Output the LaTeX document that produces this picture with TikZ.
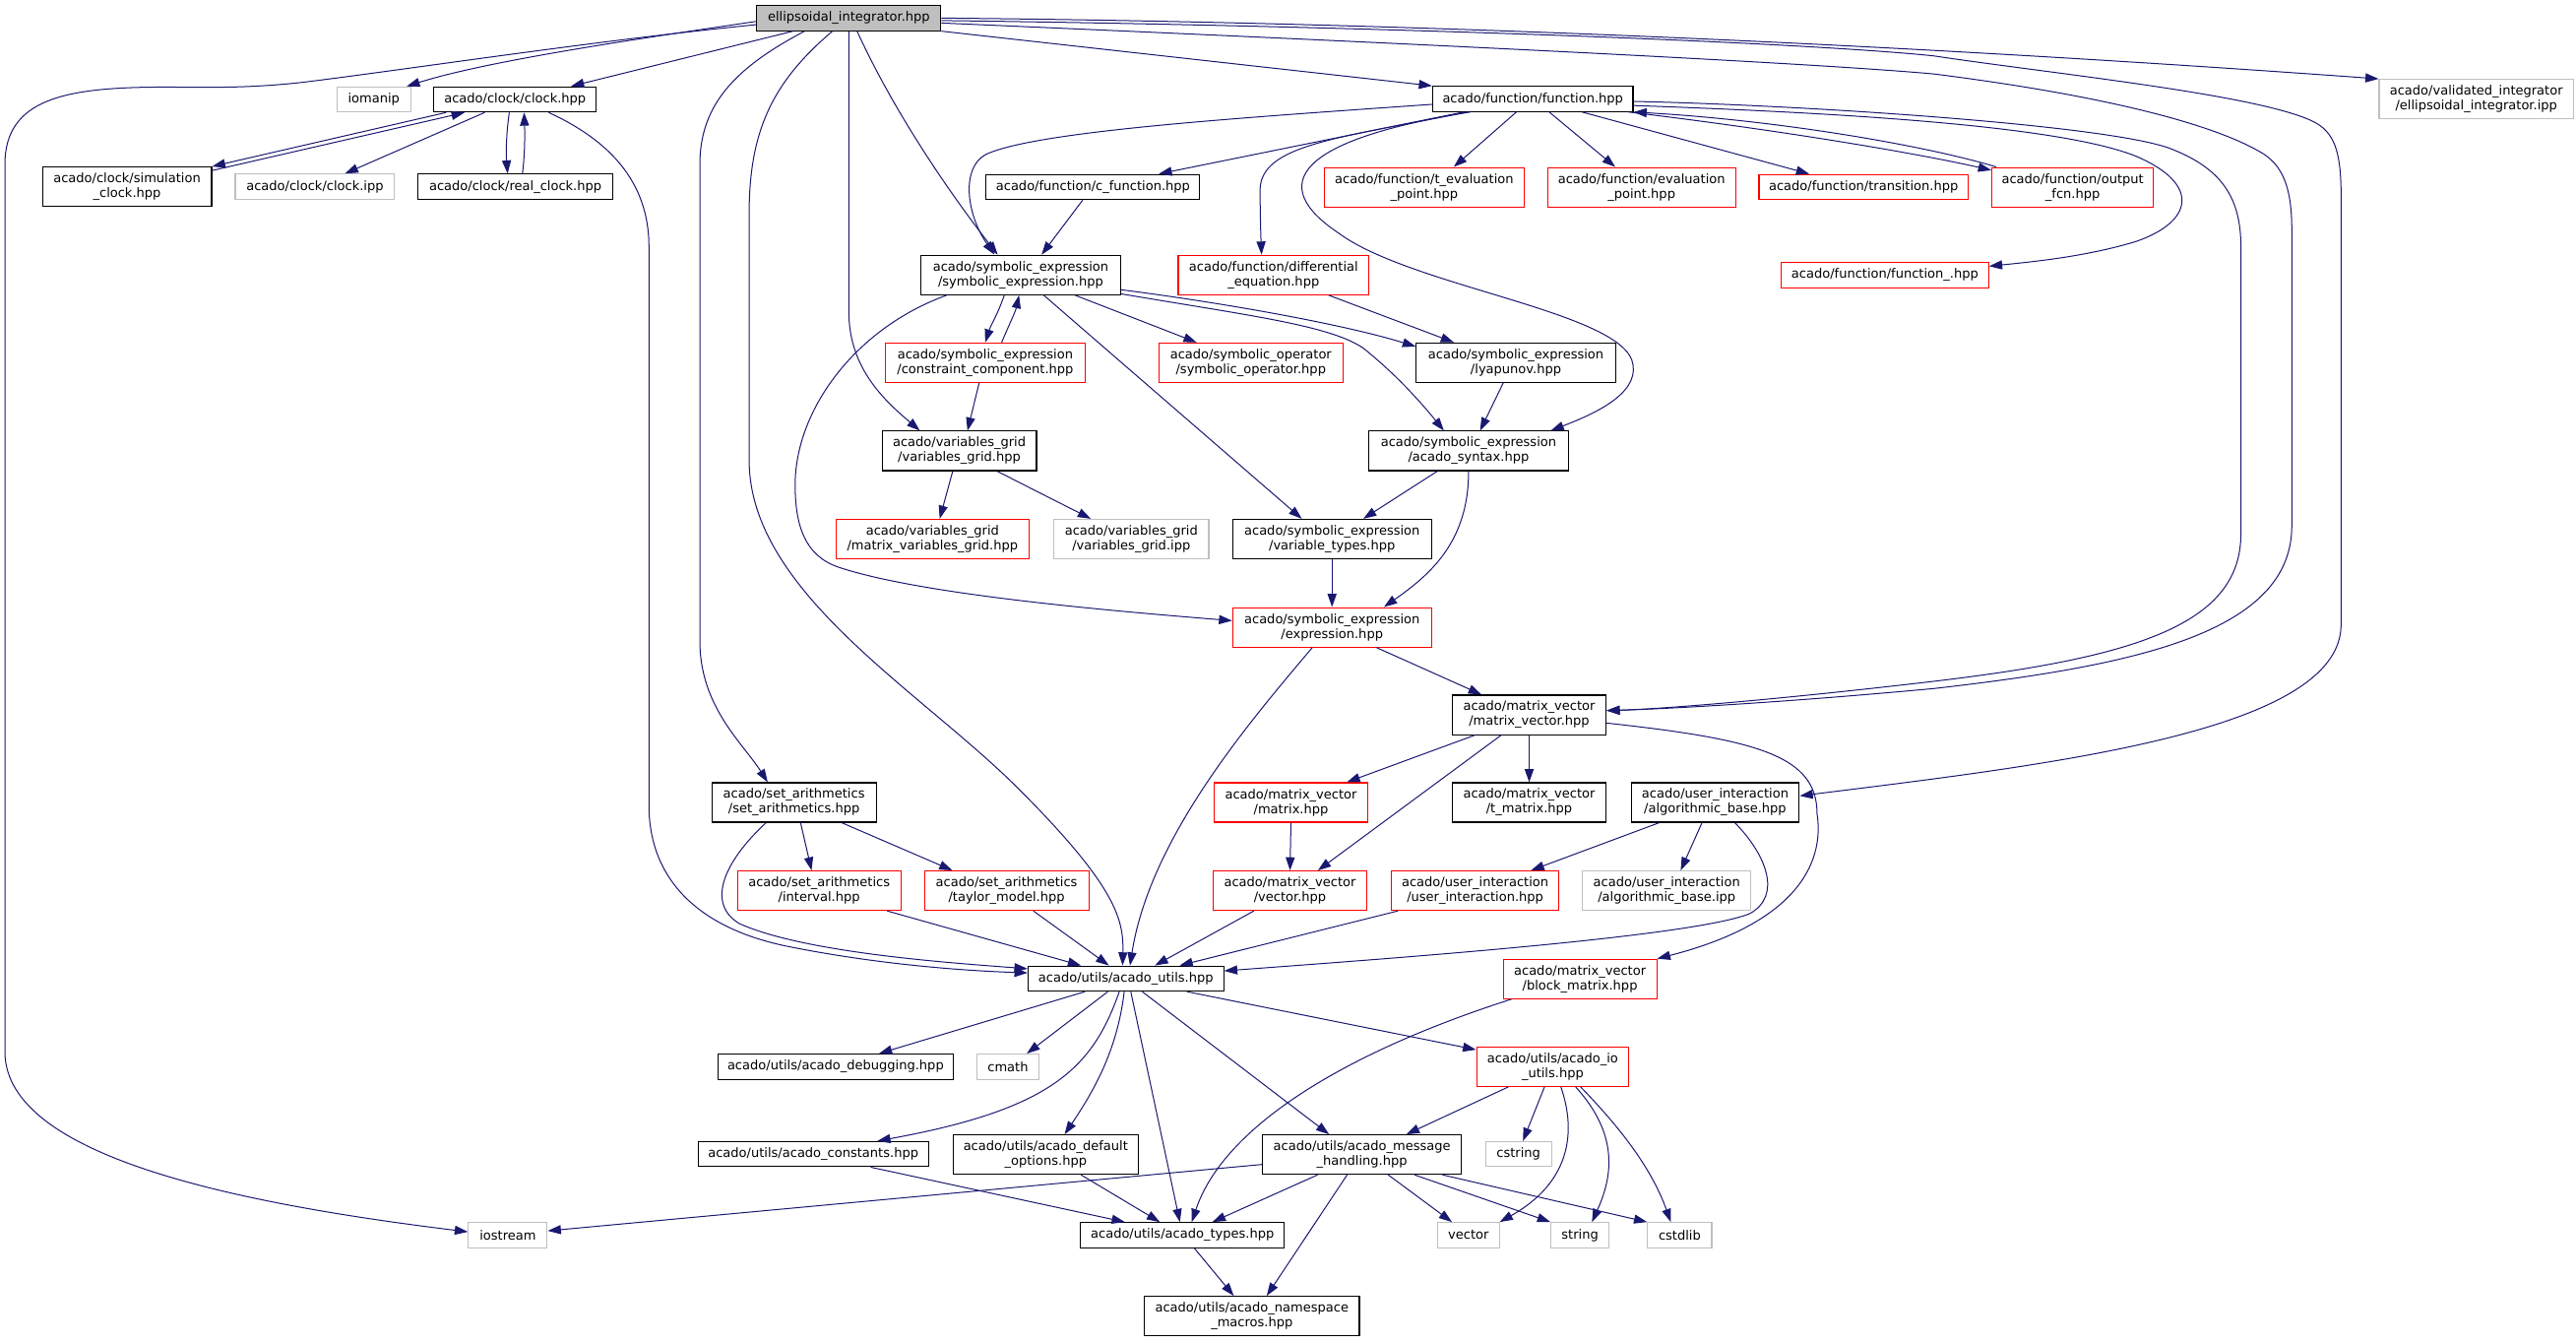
\documentclass[tikz,border=0pt]{standalone}
\usepackage{fontspec}
\setmainfont{DejaVu Sans}
\usetikzlibrary{arrows.meta}
\definecolor{edgecol}{HTML}{191970}
\definecolor{gry}{HTML}{BFBFBF}
\definecolor{redb}{HTML}{FF0000}
\newcommand{\nodefont}{\fontsize{7.8pt}{9pt}\selectfont}
\begin{document}
\begin{tikzpicture}[x=1pt,y=-1pt,
  base/.style={rectangle, inner sep=0pt, align=center, font=\nodefont, line width=0.65pt, fill=white},
  nb/.style={base, draw=black},
  nr/.style={base, draw=redb},
  ng/.style={base, draw=gry},
  nroot/.style={base, draw=black, fill=gry},
  ha/.style={minimum height=15.3pt},
  hb/.style={minimum height=24pt},
  lnk/.style={draw=edgecol, line width=0.6pt, -{Triangle[length=8pt,width=5.5pt]}}]
\useasboundingbox (0,0) rectangle (1568,817);

% ---------------- nodes ----------------
\node[nroot,ha,minimum width=112pt] (E) at (516.7,11) {ellipsoidal\_integrator.hpp};
\node[ng,ha,minimum width=45pt] (iomanip) at (227.5,60.5) {iomanip};
\node[nb,ha,minimum width=99pt] (clock) at (313.5,60.5) {acado/clock/clock.hpp};
\node[nb,ha,minimum width=122pt] (F) at (933,60.2) {acado/function/function.hpp};
\node[ng,hb,minimum width=118.3pt] (valid) at (1507.3,60.3) {acado/validated\_integrator\\/ellipsoidal\_integrator.ipp};
\node[nb,hb,minimum width=103pt] (simclock) at (77.3,113.6) {acado/clock/simulation\\\_clock.hpp};
\node[ng,ha,minimum width=97pt] (clockipp) at (191.7,113.6) {acado/clock/clock.ipp};
\node[nb,ha,minimum width=118.4pt] (realclock) at (313.7,113.6) {acado/clock/real\_clock.hpp};
\node[nb,ha,minimum width=130pt] (cfunc) at (665.3,113.8) {acado/function/c\_function.hpp};
\node[nr,hb,minimum width=121.4pt] (teval) at (866.9,113.9) {acado/function/t\_evaluation\\\_point.hpp};
\node[nr,hb,minimum width=114.4pt] (eval) at (999.2,113.9) {acado/function/evaluation\\\_point.hpp};
\node[nr,ha,minimum width=127.2pt] (trans) at (1134.3,113.8) {acado/function/transition.hpp};
\node[nr,hb,minimum width=98.3pt] (outfcn) at (1261.6,113.9) {acado/function/output\\\_fcn.hpp};
\node[nb,hb,minimum width=121.4pt] (SE) at (621.3,167.3) {acado/symbolic\_expression\\/symbolic\_expression.hpp};
\node[nr,hb,minimum width=116pt] (diffeq) at (775.2,167.3) {acado/function/differential\\\_equation.hpp};
\node[nr,ha,minimum width=126.2pt] (funcu) at (1147.3,167.5) {acado/function/function\_.hpp};
\node[nr,hb,minimum width=121.2pt] (constr) at (599.7,220.7) {acado/symbolic\_expression\\/constraint\_component.hpp};
\node[nr,hb,minimum width=112pt] (symop) at (761.4,220.7) {acado/symbolic\_operator\\/symbolic\_operator.hpp};
\node[nb,hb,minimum width=121.3pt] (lyap) at (922.7,220.7) {acado/symbolic\_expression\\/lyapunov.hpp};
\node[nb,hb,minimum width=94pt] (vgrid) at (583.9,274.4) {acado/variables\_grid\\/variables\_grid.hpp};
\node[nb,hb,minimum width=121.4pt] (syntax) at (893.9,274.4) {acado/symbolic\_expression\\/acado\_syntax.hpp};
\node[nr,hb,minimum width=117.7pt] (mvgrid) at (567.6,328) {acado/variables\_grid\\/matrix\_variables\_grid.hpp};
\node[ng,hb,minimum width=94.3pt] (vgridipp) at (688.6,328) {acado/variables\_grid\\/variables\_grid.ipp};
\node[nb,hb,minimum width=121pt] (vartypes) at (810.8,328) {acado/symbolic\_expression\\/variable\_types.hpp};
\node[nr,hb,minimum width=121pt] (expr) at (810.8,381.7) {acado/symbolic\_expression\\/expression.hpp};
\node[nb,hb,minimum width=93.6pt] (MV) at (930.8,435) {acado/matrix\_vector\\/matrix\_vector.hpp};
\node[nb,hb,minimum width=100.1pt] (setar) at (483.3,488.3) {acado/set\_arithmetics\\/set\_arithmetics.hpp};
\node[nr,hb,minimum width=93.4pt] (matrix) at (785.8,488.3) {acado/matrix\_vector\\/matrix.hpp};
\node[nb,hb,minimum width=93.6pt] (tmatrix) at (930.8,488.3) {acado/matrix\_vector\\/t\_matrix.hpp};
\node[nb,hb,minimum width=102.3pt] (algbase) at (1044,488.3) {acado/user\_interaction\\/algorithmic\_base.hpp};
\node[nr,hb,minimum width=99.6pt] (interval) at (498.6,542) {acado/set\_arithmetics\\/interval.hpp};
\node[nr,hb,minimum width=100pt] (taylor) at (612.7,542) {acado/set\_arithmetics\\/taylor\_model.hpp};
\node[nr,hb,minimum width=93.7pt] (vector) at (785.2,542) {acado/matrix\_vector\\/vector.hpp};
\node[nr,hb,minimum width=101.8pt] (userint) at (897.9,542) {acado/user\_interaction\\/user\_interaction.hpp};
\node[ng,hb,minimum width=102.4pt] (algipp) at (1014.5,542) {acado/user\_interaction\\/algorithmic\_base.ipp};
\node[nb,ha,minimum width=119pt] (AU) at (685.3,595.5) {acado/utils/acado\_utils.hpp};
\node[nr,hb,minimum width=93.4pt] (block) at (961.7,595.7) {acado/matrix\_vector\\/block\_matrix.hpp};
\node[nb,ha,minimum width=143.2pt] (debug) at (508.6,649.1) {acado/utils/acado\_debugging.hpp};
\node[ng,ha,minimum width=37.5pt] (cmath) at (613.5,649.1) {cmath};
\node[nr,hb,minimum width=92.6pt] (ioutils) at (945.1,649.1) {acado/utils/acado\_io\\\_utils.hpp};
\node[nb,ha,minimum width=140.1pt] (consts) at (495,702.3) {acado/utils/acado\_constants.hpp};
\node[nb,hb,minimum width=112.6pt] (defopt) at (636.5,702.6) {acado/utils/acado\_default\\\_options.hpp};
\node[nb,hb,minimum width=121.1pt] (MH) at (829,702.6) {acado/utils/acado\_message\\\_handling.hpp};
\node[ng,ha,minimum width=40.1pt] (cstring) at (924.3,702.3) {cstring};
\node[ng,ha,minimum width=48pt] (iostream) at (309.1,751.6) {iostream};
\node[nb,ha,minimum width=123.8pt] (types) at (719.7,751.6) {acado/utils/acado\_types.hpp};
\node[ng,ha,minimum width=37.5pt] (vecstd) at (893.8,751.6) {vector};
\node[ng,ha,minimum width=35.3pt] (string) at (961.7,751.6) {string};
\node[ng,ha,minimum width=39pt] (cstdlib) at (1022.4,751.6) {cstdlib};
\node[nb,hb,minimum width=130.9pt] (nsm) at (762,800.9) {acado/utils/acado\_namespace\\\_macros.hpp};

% ---------------- edges from root ----------------
\draw[lnk] ([yshift=-4pt]E.west) .. controls (360,25) and (250,42) .. (185,50) .. controls (150,54) and (125,53) .. (100,53) .. controls (40,53) and (3,60) .. (3,100) -- (3,640) .. controls (3,705) and (150,733) .. ([yshift=2pt]iostream.west);
\draw[lnk] ([yshift=-2pt]E.west) .. controls (400,22) and (300,36) .. ([xshift=20pt]iomanip.north);
\draw[lnk] ([xshift=-34pt]E.south) -- ([xshift=34pt]clock.north);
\draw[lnk] ([xshift=-27pt]E.south) .. controls (450,40) and (426,62) .. (426,100) -- (426,390) .. controls (426,430) and (452,452) .. ([xshift=-16pt]setar.north);
\draw[lnk] ([xshift=-10pt]E.south) .. controls (470,50) and (456,80) .. (456,130) -- (456,280) .. controls (456,360) and (560,420) .. (620,480) .. controls (680,540) and (684,560) .. ([xshift=-2pt]AU.north);
\draw[lnk] ([xshift=5pt]E.south) .. controls (545,70) and (580,120) .. ([xshift=-14pt]SE.north);
\draw[lnk] (E.south) -- (516.7,190) .. controls (516.7,225) and (540,245) .. ([xshift=-24pt]vgrid.north);
\draw[lnk] (E.south east) -- (F.north west);
\draw[lnk] (E.east) .. controls (900,14) and (1200,30) .. (valid.north west);
\draw[lnk] ([yshift=-1.5pt]E.east) .. controls (850,16) and (1100,26) .. (1177,34) .. controls (1250,45) and (1380,58) .. (1410,75) .. controls (1422,82) and (1425,95) .. (1425,120) -- (1425,380) .. controls (1425,445) and (1250,465) .. ([yshift=4pt]algbase.east);
\draw[lnk] ([yshift=-3pt]E.east) .. controls (850,26) and (1100,38) .. (1177,45) .. controls (1280,58) and (1345,75) .. (1375,92) .. controls (1390,100) and (1395,115) .. (1395,140) -- (1395,320) .. controls (1395,385) and (1300,405) .. (1177,419) .. controls (1080,428) and (1010,431.5) .. ([yshift=2.6pt]MV.east);

% ---------------- function.hpp ----------------
\draw[lnk] ([yshift=-3.3pt]F.west) .. controls (750,72) and (630,80) .. (600,94) .. controls (585,102) and (588,130) .. ([xshift=-16pt]SE.north);
\draw[lnk] ([xshift=-42pt]F.south) -- ([xshift=40pt]cfunc.north);
\draw[lnk] ([xshift=-40pt]F.south) .. controls (815,84) and (768,88) .. (767,115) .. controls (767,130) and (767.5,145) .. ([xshift=-7.3pt]diffeq.north);
\draw[lnk] ([xshift=-38pt]F.south) .. controls (790,85) and (770,112) .. (815,142) .. controls (860,175) and (990,190) .. (994,222) .. controls (997,240) and (970,252) .. ([xshift=50pt]syntax.north);
\draw[lnk] ([xshift=-10pt]F.south) -- ([xshift=18pt]teval.north);
\draw[lnk] ([xshift=10pt]F.south) -- ([xshift=-16pt]eval.north);
\draw[lnk] ([xshift=30pt]F.south) -- ([xshift=-33pt]trans.north);
\draw[lnk] ([xshift=-3pt]F.south east) .. controls (1090,80) and (1170,94) .. ([yshift=-2pt]outfcn.north west);
\draw[lnk] ([xshift=3pt]outfcn.north west) .. controls (1170,88) and (1080,73) .. (F.south east);
\draw[lnk] ([yshift=-4pt]F.east) .. controls (1100,68) and (1250,75) .. (1300,95) .. controls (1340,112) and (1335,135) .. (1300,147) .. controls (1270,156) and (1240,159) .. ([yshift=5.5pt]funcu.east);
\draw[lnk] ([yshift=-1.5pt]F.east) .. controls (1100,64) and (1280,76) .. (1320,90) .. controls (1352,102) and (1364,120) .. (1364,150) -- (1364,325) .. controls (1364,380) and (1300,400) .. (1177,414.6) .. controls (1080,426) and (1010,431.5) .. ([yshift=2.6pt]MV.east);

% ---------------- symbolic expression ----------------
\draw[lnk] ([xshift=-6.3pt]cfunc.south) -- ([xshift=12.7pt]SE.north);
\draw[lnk] ([xshift=-10pt]SE.south) .. controls (607,192) and (603,198) .. (constr.north);
\draw[lnk] ([xshift=10pt]constr.north) .. controls (614,198) and (618,190) .. ([xshift=-1pt]SE.south);
\draw[lnk] ([xshift=-45pt]SE.south) .. controls (520,200) and (484,250) .. (484,295) .. controls (484,320) and (490,338) .. (510,345) .. controls (560,362) and (680,372) .. ([yshift=4pt]expr.west);
\draw[lnk] ([xshift=33pt]SE.south) -- ([xshift=-33pt]symop.north);
\draw[lnk] ([yshift=-9pt]SE.east) .. controls (750,185) and (820,198) .. ([yshift=-2.5pt]lyap.north west);
\draw[lnk] ([yshift=-11.5pt]SE.east) .. controls (760,192) and (810,198) .. (830,212) .. controls (850,228) and (865,245) .. ([xshift=-15pt]syntax.north);
\draw[lnk] ([xshift=14pt]SE.south) -- ([xshift=-18.4pt]vartypes.north);
\draw[lnk] ([xshift=33.5pt]diffeq.south) -- ([xshift=-37.7pt]lyap.north);
\draw[lnk] ([xshift=-3.7pt]constr.south) -- ([xshift=5pt]vgrid.north);
\draw[lnk] ([xshift=-4pt]vgrid.south) -- ([xshift=4.4pt]mvgrid.north);
\draw[lnk] ([xshift=23pt]vgrid.south) -- ([xshift=-24.6pt]vgridipp.north);
\draw[lnk] ([xshift=-7.7pt]lyap.south) -- ([xshift=7pt]syntax.north);
\draw[lnk] ([xshift=-19pt]syntax.south) -- ([xshift=19pt]vartypes.north);
\draw[lnk] (syntax.south) .. controls (894,330) and (870,350) .. ([xshift=31.6pt]expr.north);
\draw[lnk] (vartypes.south) -- (expr.north);
\draw[lnk] ([xshift=27pt]expr.south) -- ([xshift=-29pt]MV.north);
\draw[lnk] ([xshift=-12pt]expr.south) .. controls (760,440) and (700,510) .. ([xshift=2.5pt]AU.north);

% ---------------- matrix vector ----------------
\draw[lnk] ([xshift=-33pt]MV.south) -- ([xshift=34pt]matrix.north);
\draw[lnk] ([xshift=-17pt]MV.south) -- ([xshift=17pt]vector.north);
\draw[lnk] (MV.south) -- (tmatrix.north);
\draw[lnk] ([yshift=-5pt]MV.east) .. controls (1070,450) and (1106,460) .. (1106,495) .. controls (1110,520) and (1100,560) .. (block.north east);
\draw[lnk] (matrix.south) -- (vector.north);

% ---------------- set arithmetics / user interaction ----------------
\draw[lnk] ([xshift=4pt]setar.south) -- ([xshift=-4.6pt]interval.north);
\draw[lnk] ([xshift=29pt]setar.south) -- ([xshift=-33pt]taylor.north);
\draw[lnk] ([xshift=-17pt]setar.south) .. controls (440,525) and (430,550) .. (450,562) .. controls (490,580) and (580,586) .. ([yshift=6pt]AU.west);
\draw[lnk] ([xshift=41.4pt]interval.south) -- ([xshift=-27.3pt]AU.north);
\draw[lnk] ([xshift=16.3pt]taylor.south) -- ([xshift=-10.3pt]AU.north);
\draw[lnk] ([xshift=-22pt]vector.south) -- ([xshift=17.7pt]AU.north);
\draw[lnk] ([xshift=-47pt]userint.south) -- ([xshift=32.7pt]AU.north);
\draw[lnk] ([xshift=-34pt]algbase.south) -- ([xshift=34pt]userint.north);
\draw[lnk] ([xshift=-8pt]algbase.south) -- ([xshift=8.5pt]algipp.north);
\draw[lnk] ([xshift=12pt]algbase.south) .. controls (1075,520) and (1085,545) .. (1065,556) .. controls (1030,570) and (850,583) .. ([yshift=4.7pt]AU.east);

% ---------------- clock ----------------
\draw[lnk] ([xshift=-42pt]clock.south) -- (simclock.north east);
\draw[lnk] ([yshift=-2.5pt]simclock.north east) -- ([xshift=-30.7pt]clock.south);
\draw[lnk] ([xshift=-18.5pt]clock.south) -- ([xshift=18.3pt]clockipp.north);
\draw[lnk] ([xshift=-3.5pt]clock.south) .. controls (308,82) and (308,94) .. ([xshift=-4.7pt]realclock.north);
\draw[lnk] ([xshift=4.3pt]realclock.north) .. controls (319.5,94) and (319.5,82) .. ([xshift=5.5pt]clock.south);
\draw[lnk] ([xshift=20.5pt]clock.south) .. controls (370,85) and (395,110) .. (395,150) -- (395,490) .. controls (395,535) and (425,565) .. (480,576) .. controls (540,588) and (595,591) .. ([yshift=3.5pt]AU.west);

% ---------------- acado_utils ----------------
\draw[lnk] ([xshift=-25pt]AU.south) -- ([xshift=26.4pt]debug.north);
\draw[lnk] ([xshift=-11pt]AU.south) -- ([xshift=11.5pt]cmath.north);
\draw[lnk] ([xshift=-4pt]AU.south) .. controls (665,650) and (640,675) .. ([xshift=39pt]consts.north);
\draw[lnk] ([xshift=-1pt]AU.south) .. controls (680,640) and (665,665) .. ([xshift=11.5pt]defopt.north);
\draw[lnk] ([xshift=3pt]AU.south) -- ([xshift=-1.5pt]types.north);
\draw[lnk] ([xshift=10pt]AU.south) -- ([xshift=-20pt]MH.north);
\draw[lnk] ([xshift=37.3pt]AU.south) -- ([yshift=-2pt]ioutils.north west);
\draw[lnk] ([xshift=-41.7pt]block.south) .. controls (820,640) and (745,685) .. ([xshift=5.7pt]types.north);

% ---------------- io utils ----------------
\draw[lnk] ([xshift=-27pt]ioutils.south) -- ([xshift=27pt]MH.north);
\draw[lnk] ([xshift=-5pt]ioutils.south) -- ([xshift=2.7pt]cstring.north);
\draw[lnk] ([xshift=5pt]ioutils.south) .. controls (960,690) and (955,720) .. (vecstd.north east);
\draw[lnk] ([xshift=14pt]ioutils.south) .. controls (985,690) and (982,715) .. ([xshift=7.3pt]string.north);
\draw[lnk] ([xshift=17pt]ioutils.south) .. controls (985,685) and (1005,710) .. ([xshift=-5.4pt]cstdlib.north);

% ---------------- message handling ----------------
\draw[lnk] ([yshift=-6pt]MH.west) -- ([yshift=2.6pt]iostream.east);
\draw[lnk] ([xshift=-27pt]MH.south) -- ([xshift=18.3pt]types.north);
\draw[lnk] ([xshift=-9pt]MH.south) -- ([xshift=9pt]nsm.north);
\draw[lnk] ([xshift=16pt]MH.south) -- ([xshift=-10pt]vecstd.north);
\draw[lnk] ([xshift=32pt]MH.south) -- (string.north west);
\draw[lnk] ([xshift=49pt]MH.south) -- (cstdlib.north west);

% ---------------- bottom ----------------
\draw[lnk] ([xshift=35pt]consts.south) -- ([xshift=-35pt]types.north);
\draw[lnk] ([xshift=21.5pt]defopt.south) -- ([xshift=-13.7pt]types.north);
\draw[lnk] ([xshift=7.3pt]types.south) -- ([xshift=-11pt]nsm.north);
\end{tikzpicture}
\end{document}
